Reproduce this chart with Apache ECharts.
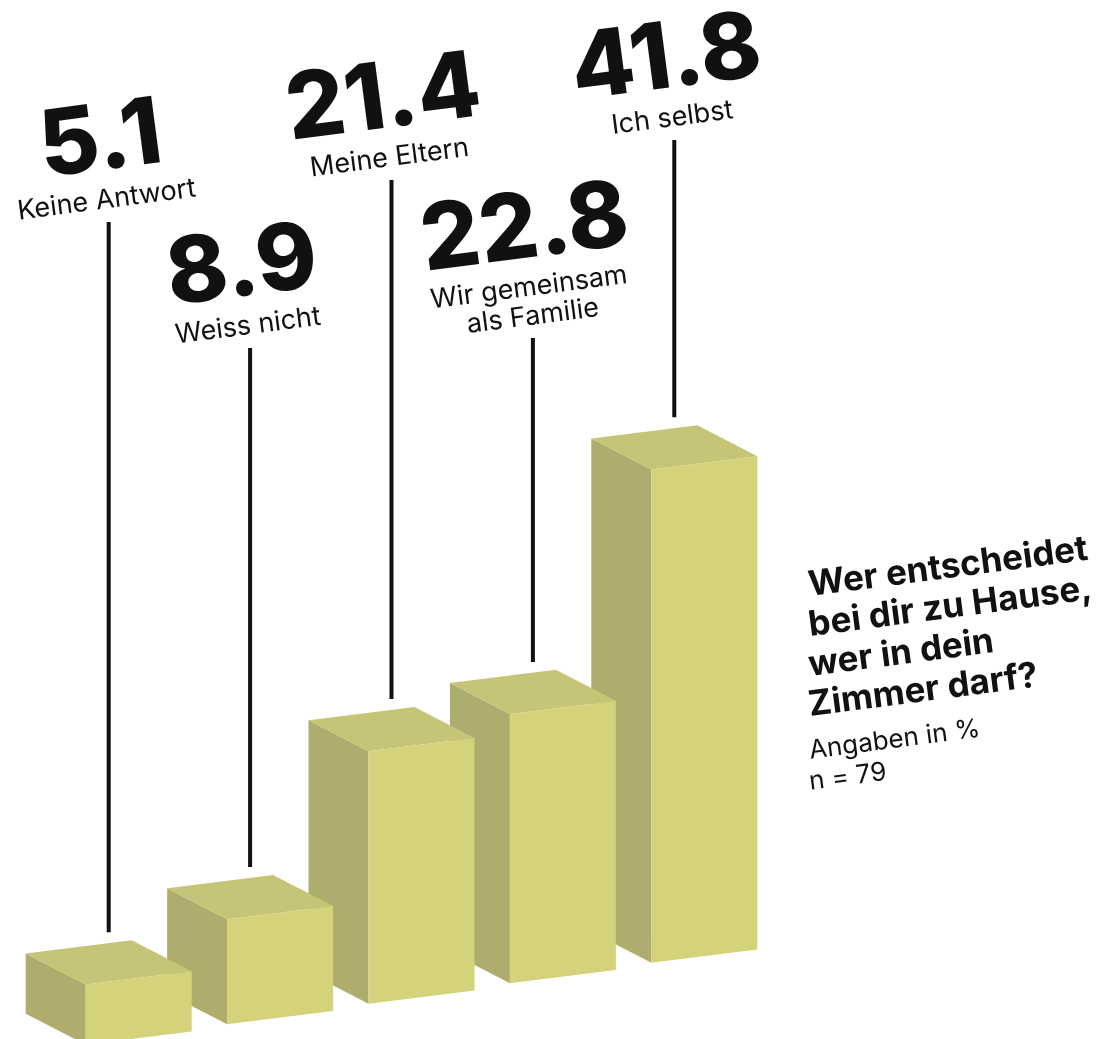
<!DOCTYPE html>
<html>
<head>
<meta charset="utf-8">
<style>
  html, body { margin: 0; padding: 0; background: #fff; }
  #chart { width: 1105px; height: 1039px; }
</style>
<script src="https://cdn.jsdelivr.net/npm/echarts@6/dist/echarts.min.js"></script>
</head>
<body>
<div id="chart"></div>
<script>
var categories = ['Keine Antwort', 'Weiss nicht', 'Meine Eltern', 'Wir gemeinsam\nals Familie', 'Ich selbst'];
var values = [5.1, 8.9, 21.4, 22.8, 41.8];
// top end of each leader line, labels are staggered by hand in the original
var lineTops = [222, 348, 180, 338, 140];

var titleLines = ['Wer entscheidet', 'bei dir zu Hause,', 'wer in dein', 'Zimmer darf?'];
var noteLines = ['Angaben in %', 'n = 79'];

var FRONT = '#d5d27c', TOP = '#c6c477', SIDE = '#afad6d';
var SKEW = 0.145;        // baseline rises to the right
var FACE_SLOPE = 0.125;  // tilt of the front face edges
var HALF_W = 53;
var DX = -60, DY = -31;  // depth of the boxes
var X_REF = 401;         // x where the slanted baseline meets the grid bottom
var ROT = 0.13;
var FONT = 'Inter, "Noto Sans", sans-serif';

var myChart = echarts.init(document.getElementById('chart'));

function renderBox(params, api) {
    var i = params.dataIndex;
    var p0 = api.coord([api.value(0), 0]);
    var p1 = api.coord([api.value(0), api.value(1)]);
    var lift = SKEW * (p0[0] - X_REF);
    var cx = p0[0], by = p0[1] - lift, ty = p1[1] - lift;
    var e = HALF_W * FACE_SLOPE;
    var flb = [cx - HALF_W, by + e], frb = [cx + HALF_W, by - e];
    var flt = [cx - HALF_W, ty + e], frt = [cx + HALF_W, ty - e];
    function back(p) { return [p[0] + DX, p[1] + DY]; }
    var z = (values.length - i) * 10;
    var lineX = cx + DX / 2;
    var lineBottom = ty + DY / 2 - 30;
    var nLines = categories[i].split('\n').length;

    return {
        type: 'group',
        children: [
            { type: 'polygon', z2: z, shape: { points: [flt, flb, back(flb), back(flt)] }, style: { fill: SIDE } },
            { type: 'polygon', z2: z + 1, shape: { points: [flt, frt, back(frt), back(flt)] }, style: { fill: TOP } },
            { type: 'polygon', z2: z + 2, shape: { points: [flt, frt, frb, flb] }, style: { fill: FRONT } },
            {
                type: 'line', z2: 200,
                shape: { x1: lineX, y1: lineTops[i], x2: lineX, y2: lineBottom },
                style: { stroke: '#111', lineWidth: 4 }
            },
            {
                type: 'text', z2: 200,
                x: lineX - 2, y: lineTops[i] - 22 - (nLines - 1) * 14, rotation: ROT,
                style: {
                    text: categories[i], fill: '#111', font: '27px ' + FONT,
                    align: 'center', verticalAlign: 'middle', lineHeight: 29
                }
            },
            {
                type: 'text', z2: 200,
                x: lineX - 8, y: lineTops[i] - 80 - (nLines - 1) * 28, rotation: ROT,
                style: {
                    text: values[i].toFixed(1), fill: '#111', font: '800 92px ' + FONT,
                    align: 'center', verticalAlign: 'middle'
                }
            }
        ]
    };
}

var graphics = [];
titleLines.forEach(function (t, k) {
    graphics.push({
        type: 'text', x: 811, y: 603 + k * 40, rotation: ROT,
        style: { text: t, fill: '#111', font: 'bold 35px ' + FONT, align: 'left', verticalAlign: 'bottom' }
    });
});
noteLines.forEach(function (t, k) {
    graphics.push({
        type: 'text', x: 811, y: 764 + k * 31, rotation: ROT,
        style: { text: t, fill: '#111', font: '26px ' + FONT, align: 'left', verticalAlign: 'bottom' }
    });
});

var option = {
    animation: false,
    grid: { left: 68, width: 707, top: 410, height: 590 },
    xAxis: { type: 'category', data: categories, show: false },
    yAxis: { type: 'value', min: 0, max: 50, show: false },
    graphic: graphics,
    series: [{
        type: 'custom',
        renderItem: renderBox,
        data: values.map(function (v, i) { return [i, v]; })
    }]
};
myChart.setOption(option);
</script>
</body>
</html>
